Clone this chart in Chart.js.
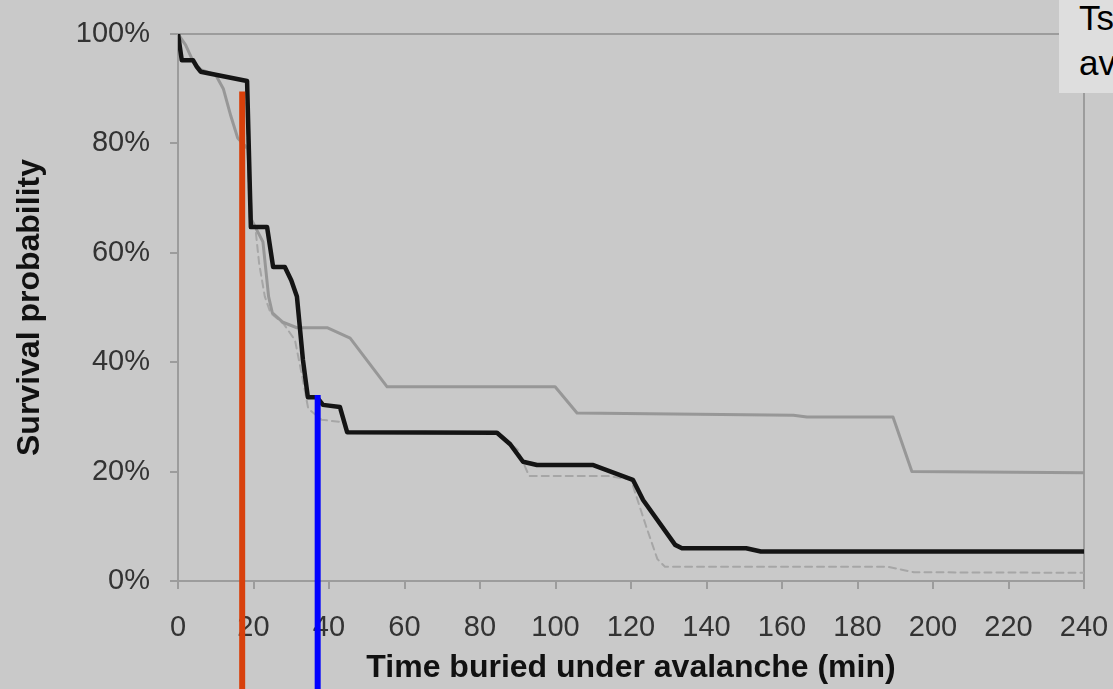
<!DOCTYPE html>
<html><head><meta charset="utf-8">
<script src="https://cdn.jsdelivr.net/npm/chart.js@4/dist/chart.umd.min.js"></script>
<style>
html,body{margin:0;padding:0;background:#c9c9c9;overflow:hidden}
#wrap{position:relative;width:1113px;height:689px}
#note{position:absolute;left:1059px;top:0;width:54px;height:93px;background:#dedede;overflow:hidden;font-family:"Liberation Sans",Arial,sans-serif;font-size:35px;line-height:45px;color:#000}
#note div{position:relative;left:20px;top:-5px;white-space:nowrap}
</style></head><body>
<div id="wrap"><canvas id="c" width="1113" height="689"></canvas>
<div id="note"><div>Ts<br>av</div></div></div>
<script>
// ---- data (minutes, survival %) ----
const blackTime     = [0,1,4,5,6,18.3,19.3,23.6,25.2,28.3,30,31.5,33.1,34.4,36.8,38.4,42.9,44.8,84.5,88,91.4,95.1,110,120.5,123.2,131.7,133.5,150.5,154.4,240];
const blackSurvival = [100,95.2,95.2,94,93.1,91.4,64.7,64.7,57.4,57.4,55,52,40.4,33.6,33.6,32.2,31.8,27.2,27.1,25,21.8,21.2,21.2,18.5,14.8,6.6,6.0,6.0,5.4,5.4];

const greyTime      = [0,2,4,6,10,12,14,15.8,18.5,19.5,22.5,24,25,27.8,31.5,39.5,45.6,55.4,99.9,105.7,163,166.6,189.4,194.4,240];
const greySurvival  = [100,98,95,93.5,92.5,90,85,81,79,66,62,52,49,47.3,46.3,46.3,44.4,35.5,35.5,30.7,30.3,30,30,20,19.8];

const dashedTime     = [0,1,4,6,18,19,20.5,21.5,23,24.5,28,31,33,34.5,38,44,45,84.5,90,93,114,120,124,127,129,188,195,240];
const dashedSurvival = [100,95.2,95.2,93,91.4,66,64.5,58,52,49,47,44,37,31.5,29.5,29,27.2,27.1,24,19.2,19.2,18.5,10,4,2.6,2.6,1.6,1.5];

const markerTimes  = [17, 37];
const markerTops   = [89.5, 34];
const markerColors = ['#d8400b', '#0000ff'];

const xTickValues = [0,20,40,60,80,100,120,140,160,180,200,220,240];
const yTickValues = [0,20,40,60,80,100];

const xTitle = 'Time buried under avalanche (min)';
const yTitle = 'Survival probability';

function pts(xs, ys){ return xs.map((x,i)=>({x:x, y:ys[i]})); }

const FONT = '"Liberation Sans", Arial, sans-serif';
const AXIS = '#9c9c9c';

const markerPlugin = {
  id:'markers',
  afterDatasetsDraw(chart){
    const {ctx} = chart, xs = chart.scales.x, ys = chart.scales.y;
    ctx.save();
    markerTimes.forEach((t,i)=>{
      const px = xs.getPixelForValue(t);
      ctx.strokeStyle = markerColors[i];
      ctx.lineWidth = 6;
      ctx.beginPath();
      ctx.moveTo(px, ys.getPixelForValue(markerTops[i]));
      ctx.lineTo(px, chart.height);
      ctx.stroke();
    });
    ctx.restore();
  }
};

new Chart(document.getElementById('c'), {
  type:'line',
  data:{datasets:[
    {data:pts(blackTime, blackSurvival), borderColor:'#141414', borderWidth:4.5, order:1},
    {data:pts(greyTime, greySurvival), borderColor:'#979797', borderWidth:3, order:2},
    {data:pts(dashedTime, dashedSurvival), borderColor:'#a6a6a6', borderWidth:2, borderDash:[7,5], order:3}
  ]},
  options:{
    responsive:false, animation:false,
    layout:{padding:{top:34,right:29,left:0,bottom:0}},
    elements:{point:{radius:0}, line:{tension:0, borderJoinStyle:'round', borderCapStyle:'round'}},
    plugins:{legend:{display:false}, tooltip:{enabled:false}},
    scales:{
      x:{type:'linear', position:'bottom', min:0, max:240,
        afterBuildTicks(s){ s.ticks = xTickValues.map(v=>({value:v})); },
        ticks:{font:{family:FONT,size:29}, color:'#333', padding:22, maxRotation:0, autoSkip:false},
        grid:{drawOnChartArea:false, drawTicks:true, tickLength:8, color:AXIS, lineWidth:2},
        border:{display:true, color:AXIS, width:2},
        title:{display:true, text:xTitle, font:{family:FONT,size:32,weight:'bold'}, color:'#111', padding:{top:0,bottom:2}},
        afterFit(s){ s.height = 108; s.paddingLeft = 0; s.paddingRight = 0; }
      },
      y:{type:'linear', position:'left', min:0, max:100,
        afterBuildTicks(s){ s.ticks = yTickValues.map(v=>({value:v})); },
        ticks:{font:{family:FONT,size:29}, color:'#333', padding:20, callback:v=>v+'%'},
        grid:{drawOnChartArea:false, drawTicks:true, tickLength:8, color:AXIS, lineWidth:2},
        border:{display:true, color:AXIS, width:2},
        title:{display:true, text:yTitle, font:{family:FONT,size:32,weight:'bold'}, color:'#111', padding:{top:11,bottom:0}},
        afterFit(s){ s.width = 178; s.paddingTop = 0; s.paddingBottom = 0; }
      },
      x2:{type:'linear', position:'top', min:0, max:240,
        ticks:{display:false}, grid:{display:true, drawOnChartArea:false, drawTicks:false, color:AXIS},
        border:{display:true, color:AXIS, width:2},
        afterFit(s){ s.height = 0; s.paddingLeft = 0; s.paddingRight = 0; }
      },
      y2:{type:'linear', position:'right', min:0, max:100,
        ticks:{display:false}, grid:{display:true, drawOnChartArea:false, drawTicks:false, color:AXIS},
        border:{display:true, color:AXIS, width:2},
        afterFit(s){ s.width = 0; }
      }
    }
  },
  plugins:[markerPlugin]
});
</script>
</body></html>
